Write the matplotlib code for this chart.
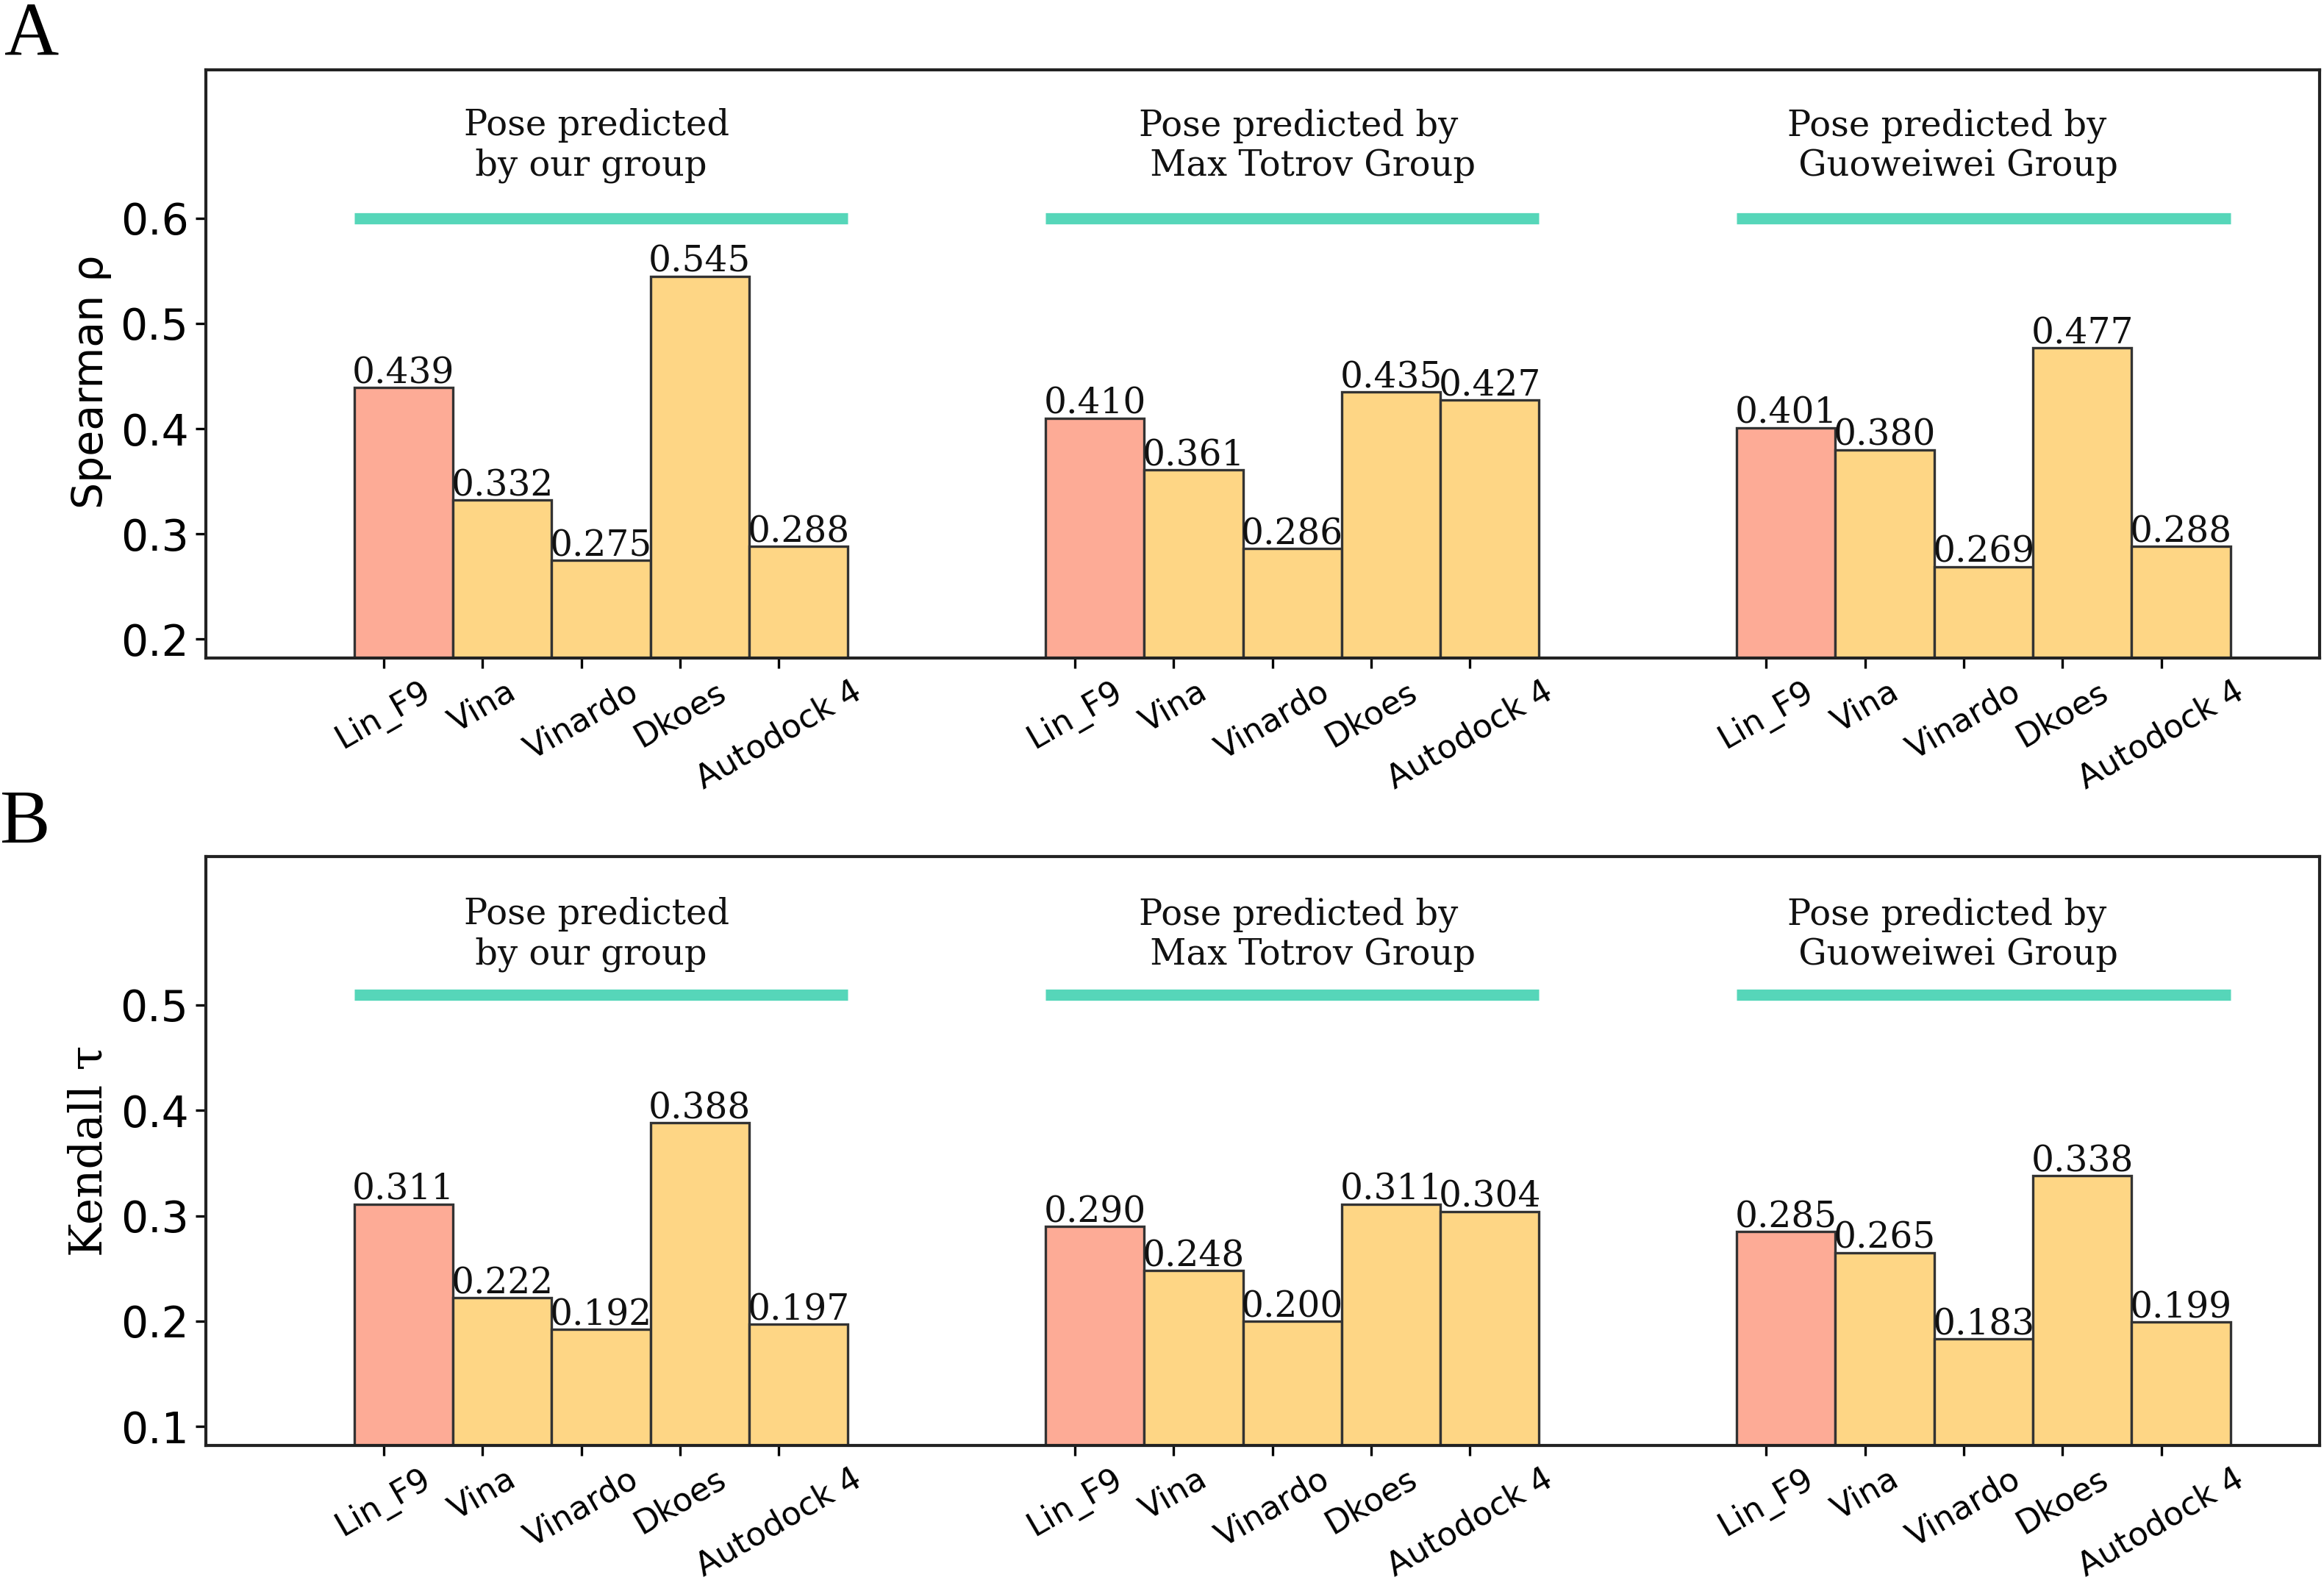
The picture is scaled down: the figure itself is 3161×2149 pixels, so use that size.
import matplotlib
matplotlib.use("Agg")
import matplotlib.pyplot as plt
import numpy as np

methods = ["Lin_F9", "Vina", "Vinardo", "Dkoes", "Autodock 4"]
groups = ["Pose predicted\n by our group",
          "Pose predicted by\n Max Totrov Group",
          "Pose predicted by\n Guoweiwei Group"]

spearman_our = [0.439, 0.332, 0.275, 0.545, 0.288]
spearman_max = [0.410, 0.361, 0.286, 0.435, 0.427]
spearman_guo = [0.401, 0.380, 0.269, 0.477, 0.288]

kendall_our = [0.311, 0.222, 0.192, 0.388, 0.197]
kendall_max = [0.290, 0.248, 0.200, 0.311, 0.304]
kendall_guo = [0.285, 0.265, 0.183, 0.338, 0.199]

spearman_yticks = [0.2, 0.3, 0.4, 0.5, 0.6]
kendall_yticks = [0.1, 0.2, 0.3, 0.4, 0.5]

SALMON = "#fdab96"
YELLOW = "#fed685"
GREEN = "#56d6b9"
EDGE = "#333333"

DPI = 200
fig = plt.figure(figsize=(3161 / DPI, 2149 / DPI), dpi=DPI)

left, right = 0.0886, 0.998
axA = fig.add_axes([left, 0.5835, right - left, 0.9558 - 0.5835])
axB = fig.add_axes([left, 0.0852, right - left, 0.4579 - 0.0852])

# left x offsets (data units) of the group titles
TITLE_X = [0.81, 7.65, 14.21]


def draw(ax, series, yticks, ylim, line_y, title_y, ylabel, ylabel_family,
         ylabel_size, ylabel_y):
    tick_pos = []
    tick_lab = []
    for g, vals in enumerate(series):
        base = g * 7
        xs = np.arange(len(vals)) + base
        colors = [SALMON] + [YELLOW] * (len(vals) - 1)
        bars = ax.bar(xs + 0.2, vals, width=1.0, color=colors,
                      edgecolor=EDGE, linewidth=1.2, zorder=2)
        ax.bar_label(bars, labels=[f"{v:.3f}" for v in vals], padding=-1.5,
                     fontsize=17.5, family="DejaVu Serif", color="#111111")
        x0 = base - 0.3
        x1 = base + len(vals) - 0.3
        ax.plot([x0, x1], [line_y, line_y], color=GREEN, lw=5.5,
                solid_capstyle="butt", zorder=3)
        ax.text(TITLE_X[g], title_y, groups[g], ha="left", va="center",
                multialignment="left",
                fontsize=17.3, family="DejaVu Serif", color="#111111")
        tick_pos.extend(xs)
        tick_lab.extend(methods)
    ax.set_xticks(tick_pos)
    ax.set_xticklabels(tick_lab, rotation=30, fontsize=16)
    ax.set_yticks(yticks)
    ax.set_yticklabels([f"{t:.1f}" for t in yticks], fontsize=21)
    ax.set_ylim(*ylim)
    ax.set_xlim(-1.8, 19.6)
    ax.set_ylabel(ylabel, fontsize=ylabel_size, family=ylabel_family,
                  y=ylabel_y)
    for s in ax.spines.values():
        s.set_linewidth(1.5)
        s.set_color("#222222")
    ax.tick_params(width=1.2, length=5)


draw(axA, [spearman_our, spearman_max, spearman_guo], spearman_yticks,
     (0.182, 0.741), 0.6, 0.669, "Spearman ρ", "DejaVu Sans", 20.5, 0.47)
draw(axB, [kendall_our, kendall_max, kendall_guo], kendall_yticks,
     (0.082, 0.641), 0.51, 0.567, "Kendall τ", "DejaVu Serif", 22, 0.5)

fig.text(0.002, 0.999, "A", fontsize=37, family="Liberation Serif",
         ha="left", va="top")
fig.text(0.0, 0.500, "B", fontsize=37, family="Liberation Serif",
         ha="left", va="top")

fig.savefig("out.png", dpi=DPI)
